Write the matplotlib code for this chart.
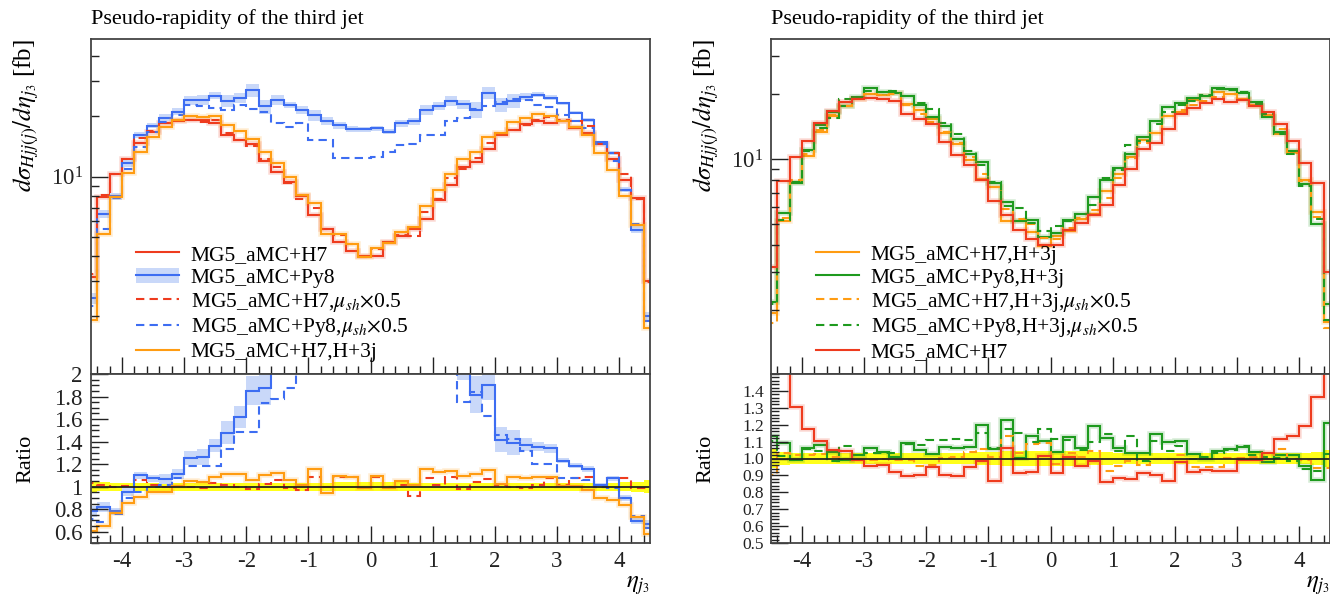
import numpy as np
import matplotlib
matplotlib.use('Agg')
import matplotlib.pyplot as plt
from matplotlib.ticker import MultipleLocator, FixedLocator, LogLocator, NullFormatter, FuncFormatter
from matplotlib.patches import Patch
from matplotlib.lines import Line2D

plt.rcParams['font.family'] = ['Liberation Serif', 'DejaVu Serif']
plt.rcParams['mathtext.fontset'] = 'stix'
plt.rcParams['axes.unicode_minus'] = False

# bin edges in eta (0.2 wide, outermost bins half visible)
edges = np.linspace(-4.6, 4.6, 47)

# MG5_aMC+H7 cross section per bin [fb]
h7 = [3.16, 7.93, 10.25, 12.2, 14.7, 16.7, 18.5, 19.0, 19.2, 19.1, 18.6, 16.2,
      15.3, 14.6, 12.0, 10.5, 9.4, 8.0, 6.4, 5.5, 4.7, 4.25, 4.02, 4.02, 4.7,
      5.05, 5.5, 6.15, 7.6, 9.05, 11.2, 11.9, 13.8, 16.2, 17.2, 18.3, 19.0, 18.5,
      18.9, 17.6, 16.6, 14.6, 12.2, 9.6, 7.8, 3.0]
h7_unc = [0.045, 0.04, 0.035, 0.035, 0.035, 0.035, 0.035, 0.035, 0.035, 0.035,
          0.035, 0.035, 0.035, 0.035, 0.035, 0.035, 0.035, 0.035, 0.035, 0.035,
          0.04, 0.04, 0.04, 0.04, 0.04, 0.04, 0.035, 0.035, 0.035, 0.035, 0.035,
          0.035, 0.035, 0.035, 0.035, 0.035, 0.035, 0.035, 0.035, 0.035, 0.035,
          0.035, 0.035, 0.04, 0.045, 0.055]

# ratios to MG5_aMC+H7 (left panel)
r_py8 = [0.78, 0.82, 0.78, 0.956, 1.10, 1.075, 1.067, 1.114, 1.255, 1.264, 1.365,
         1.478, 1.618, 1.851, 1.872, 2.30, 2.43, 2.70, 3.17, 3.45, 3.85, 4.07, 4.30,
         4.35, 3.57, 3.66, 3.45, 3.50, 2.97, 2.64, 2.05, 1.815, 1.90, 1.418, 1.389,
         1.374, 1.353, 1.341, 1.231, 1.186, 1.156, 1.016, 1.076, 0.897, 0.697, 0.667]
py8_unc = [0.06, 0.05, 0.04, 0.04, 0.03, 0.03, 0.04, 0.04, 0.05, 0.055, 0.04, 0.07,
           0.06, 0.07, 0.08, 0.06, 0.04, 0.05, 0.06, 0.05, 0.04, 0.03, 0.03, 0.03,
           0.03, 0.04, 0.04, 0.06, 0.05, 0.06, 0.05, 0.09, 0.07, 0.08, 0.08, 0.04,
           0.03, 0.03, 0.02, 0.02, 0.02, 0.02, 0.02, 0.03, 0.04, 0.05]
r_h7_mu = [1.03, 1.015, 1.0, 1.01, 1.06, 1.015, 1.0, 1.005, 1.0, 0.986, 1.03, 1.015,
           1.0, 0.98, 1.02, 1.06, 0.985, 0.97, 1.085, 1.0, 1.09, 1.085, 0.985, 1.085,
           1.0, 1.016, 0.918, 1.076, 1.016, 1.085, 0.977, 1.037, 1.067, 1.016, 1.0,
           0.986, 1.016, 1.076, 1.016, 1.076, 1.085, 1.0, 1.076, 1.076, 0.986, 0.986]
r_py8_mu = [0.71, 0.69, 0.76, 0.897, 0.956, 1.0, 1.015, 1.075, 1.186, 1.186, 1.18,
            1.335, 1.487, 1.487, 1.747, 1.776, 1.88, 2.31, 2.39, 2.78, 2.63, 2.91,
            3.08, 3.13, 2.82, 2.85, 2.64, 2.63, 2.13, 2.1, 1.755, 1.84, 1.627, 1.463,
            1.42, 1.314, 1.201, 1.201, 1.076, 1.076, 1.06, 0.995, 0.986, 0.897, 0.74, 0.63]
r_h7_3j = [0.61, 0.65, 0.768, 0.852, 0.906, 0.95, 0.956, 1.006, 1.046, 1.037, 1.085,
           1.114, 1.108, 1.055, 1.105, 1.117, 1.055, 1.016, 1.156, 0.942, 1.097, 1.085,
           0.986, 1.091, 0.99, 1.046, 1.016, 1.159, 1.129, 1.135, 1.097, 1.111, 1.15,
           1.022, 1.09, 1.076, 1.082, 1.082, 1.007, 1.007, 0.97, 0.897, 0.882, 0.837,
           0.733, 0.584]

# ratios to MG5_aMC+H7,H+3j (right panel)
h7_3j_unc = [0.055, 0.04, 0.035, 0.033, 0.033, 0.033, 0.033, 0.033, 0.033, 0.033,
             0.033, 0.033, 0.035, 0.035, 0.035, 0.035, 0.035, 0.04, 0.04, 0.045, 0.045,
             0.045, 0.045, 0.045, 0.045, 0.045, 0.04, 0.04, 0.035, 0.035, 0.035, 0.035,
             0.033, 0.033, 0.033, 0.033, 0.033, 0.033, 0.033, 0.033, 0.033, 0.033,
             0.033, 0.035, 0.04, 0.053]
r_py8_3j = [1.133, 1.093, 0.99, 1.063, 1.079, 1.04, 0.994, 1.018, 1.06, 1.038, 1.01,
            1.089, 1.05, 1.024, 1.07, 1.06, 1.07, 1.20, 1.054, 1.228, 1.004, 1.133,
            1.103, 1.038, 1.127, 1.06, 1.193, 1.123, 1.06, 1.034, 1.034, 1.143, 1.097,
            1.103, 1.024, 0.998, 1.044, 1.054, 1.07, 1.038, 0.978, 1.018, 1.018, 0.954,
            0.875, 1.212]
r_h7_3j_mu = [0.9, 1.034, 1.018, 1.018, 1.024, 1.01, 0.998, 0.994, 0.994, 0.998, 0.99,
              0.99, 0.954, 0.964, 1.004, 1.01, 1.038, 1.054, 1.01, 1.133, 1.03, 1.083,
              1.09, 0.97, 1.03, 1.01, 1.044, 0.925, 0.954, 0.984, 0.964, 1.0, 1.0,
              1.018, 0.95, 0.95, 0.95, 1.004, 1.004, 1.01, 1.0, 1.054, 0.998, 0.99,
              0.945, 0.945]
r_py8_3j_mu = [1.103, 1.014, 0.994, 1.054, 1.044, 0.984, 1.073, 1.018, 1.03, 1.034,
               1.03, 1.083, 1.077, 1.107, 1.109, 1.113, 1.107, 1.153, 1.063, 1.177,
               1.153, 1.10, 1.173, 1.113, 1.11, 1.05, 1.10, 1.143, 1.044, 1.133, 0.984,
               1.103, 1.044, 1.073, 0.998, 1.01, 1.03, 1.048, 1.073, 1.018, 1.01, 1.005,
               0.984, 0.935, 0.925, 1.024]

title = 'Pseudo-rapidity of the third jet'
ylabel = r'$d\sigma_{Hjj(j)}/d\eta_{j_3}$ [fb]'
xlabel = r'$\eta_{j_3}$'
mu_txt = r',$\mu_{sh}$$\times$0.5'

RED = '#EE3B1E'
BLUE = '#3D6DF2'
ORANGE = '#FF9C12'
GREEN = '#1E9A1E'
BLUE_BAND = '#C9D8F9'
YELLOW = '#FFFF1A'
DASH = (0, (4, 2.5))

h7 = np.array(h7)
h7_3j = h7 * np.array(r_h7_3j)
py8 = h7 * np.array(r_py8)
h7_mu = h7 * np.array(r_h7_mu)
py8_mu = h7 * np.array(r_py8_mu)
py8_3j = h7_3j * np.array(r_py8_3j)
h7_3j_mu = h7_3j * np.array(r_h7_3j_mu)
py8_3j_mu = h7_3j * np.array(r_py8_3j_mu)


def step(ax, vals, color, ls='-', halo=True):
    if halo:
        ax.stairs(vals, edges, baseline=None, color=color, lw=4, alpha=0.18)
    ax.stairs(vals, edges, baseline=None, color=color, lw=1.5, linestyle=ls)


def band(ax, lo, hi, color):
    ax.stairs(hi, edges, baseline=lo, fill=True, color=color, lw=0)


def style(ax, ratio):
    ax.set_xlim(-4.5, 4.5)
    ax.xaxis.set_major_locator(MultipleLocator(1))
    ax.xaxis.set_minor_locator(MultipleLocator(0.2))
    ax.tick_params(which='both', direction='in', top=False, right=False,
                   labelsize=16.5, colors='#222222', pad=6)
    ax.tick_params(which='major', length=12, width=1.0)
    ax.tick_params(which='minor', length=5.5, width=1.0)
    for s in ax.spines.values():
        s.set_linewidth(1.3)
        s.set_color('#444444')
    if not ratio:
        ax.tick_params(labelbottom=False)


fig = plt.figure(figsize=(13.3, 6.0), dpi=100)

panels = []
for x0 in (91 / 1330, 771 / 1330):
    axm = fig.add_axes([x0, 1 - 374 / 600, 559 / 1330, 335 / 600])
    axr = fig.add_axes([x0, 1 - 543 / 600, 559 / 1330, 169 / 600])
    panels.append((axm, axr))

leg_kw = dict(loc='lower left', bbox_to_anchor=(0.08, 0.035), frameon=False,
              fontsize=15.5, handlelength=2.0, handletextpad=0.55,
              labelspacing=0.13, borderpad=0, borderaxespad=0)

# ---- left panel ----
axm, axr = panels[0]
axm.set_yscale('log')
step(axm, h7, RED)
band(axm, py8 * (1 - np.array(py8_unc)), py8 * (1 + np.array(py8_unc)), BLUE_BAND)
step(axm, py8, BLUE, halo=False)
step(axm, h7_mu, RED, DASH, halo=False)
step(axm, py8_mu, BLUE, DASH, halo=False)
step(axm, h7_3j, ORANGE)
axm.set_ylim(1.03, 48.8)

leg_handles = [Line2D([], [], color=RED, lw=1.5),
               (Patch(facecolor=BLUE_BAND, edgecolor='none'), Line2D([], [], color=BLUE, lw=1.5)),
               Line2D([], [], color=RED, lw=1.5, ls=DASH),
               Line2D([], [], color=BLUE, lw=1.5, ls=DASH),
               Line2D([], [], color=ORANGE, lw=1.5)]
leg_labels = ['MG5_aMC+H7', 'MG5_aMC+Py8', 'MG5_aMC+H7' + mu_txt,
              'MG5_aMC+Py8' + mu_txt, 'MG5_aMC+H7,H+3j']
axm.legend(leg_handles, leg_labels, **leg_kw)

r_ref = np.ones(len(h7))
band(axr, r_ref - np.array(h7_unc), r_ref + np.array(h7_unc), YELLOW)
axr.axhline(1.0, color='#222222', lw=1.3)
step(axr, np.array(r_h7_mu), RED, DASH, halo=False)
band(axr, py8 * (1 - np.array(py8_unc)) / h7, py8 * (1 + np.array(py8_unc)) / h7, BLUE_BAND)
step(axr, np.array(r_py8), BLUE, halo=False)
step(axr, np.array(r_py8_mu), BLUE, DASH, halo=False)
step(axr, np.array(r_h7_3j), ORANGE)
axr.set_ylim(0.5, 2.0)
axr.yaxis.set_major_locator(MultipleLocator(0.2))
axr.yaxis.set_minor_locator(MultipleLocator(0.05))
axr.yaxis.set_major_formatter(FuncFormatter(lambda v, p: '%g' % round(v, 2)))

# ---- right panel ----
axm2, axr2 = panels[1]
axm2.set_yscale('log')
step(axm2, h7_3j, ORANGE)
step(axm2, py8_3j, GREEN)
step(axm2, h7_3j_mu, ORANGE, DASH, halo=False)
step(axm2, py8_3j_mu, GREEN, DASH, halo=False)
step(axm2, h7, RED)
axm2.set_ylim(1.01, 36.1)

leg_handles2 = [Line2D([], [], color=ORANGE, lw=1.5),
                Line2D([], [], color=GREEN, lw=1.5),
                Line2D([], [], color=ORANGE, lw=1.5, ls=DASH),
                Line2D([], [], color=GREEN, lw=1.5, ls=DASH),
                Line2D([], [], color=RED, lw=1.5)]
leg_labels2 = ['MG5_aMC+H7,H+3j', 'MG5_aMC+Py8,H+3j', 'MG5_aMC+H7,H+3j' + mu_txt,
               'MG5_aMC+Py8,H+3j' + mu_txt, 'MG5_aMC+H7']
axm2.legend(leg_handles2, leg_labels2, **leg_kw)

band(axr2, r_ref - np.array(h7_3j_unc), r_ref + np.array(h7_3j_unc), YELLOW)
axr2.axhline(1.0, color='#222222', lw=1.3)
step(axr2, np.array(r_py8_3j), GREEN)
step(axr2, np.array(r_h7_3j_mu), ORANGE, DASH, halo=False)
step(axr2, np.array(r_py8_3j_mu), GREEN, DASH, halo=False)
step(axr2, h7 / h7_3j, RED)
axr2.set_ylim(0.5, 1.5)
axr2.yaxis.set_major_locator(FixedLocator([0.5, 0.6, 0.7, 0.8, 0.9, 1.0, 1.1, 1.2, 1.3, 1.4]))
axr2.yaxis.set_minor_locator(MultipleLocator(0.02))
axr2.yaxis.set_major_formatter(FuncFormatter(lambda v, p: '%.1f' % v))

for axm_, axr_ in panels:
    style(axm_, False)
    style(axr_, True)
    axm_.yaxis.set_major_locator(LogLocator(base=10))
    axm_.yaxis.set_minor_locator(LogLocator(base=10, subs=np.arange(2, 10)))
    axm_.yaxis.set_minor_formatter(NullFormatter())
    axm_.set_title(title, loc='left', fontsize=16, pad=11)
    axm_.set_ylabel(ylabel, loc='top', fontsize=18)
    axm_.yaxis.set_label_coords(-0.09, 1.0)
    axr_.set_ylabel('Ratio', fontsize=16)
    axr_.yaxis.set_label_coords(-0.1, 0.5)
    axr_.set_xlabel(xlabel, loc='right', fontsize=18, labelpad=1)

# the dense 0.1-step labels of the right ratio panel need a smaller font
axr2.tick_params(axis='y', labelsize=12.5, pad=5)

fig.savefig('out.png', dpi=100)
